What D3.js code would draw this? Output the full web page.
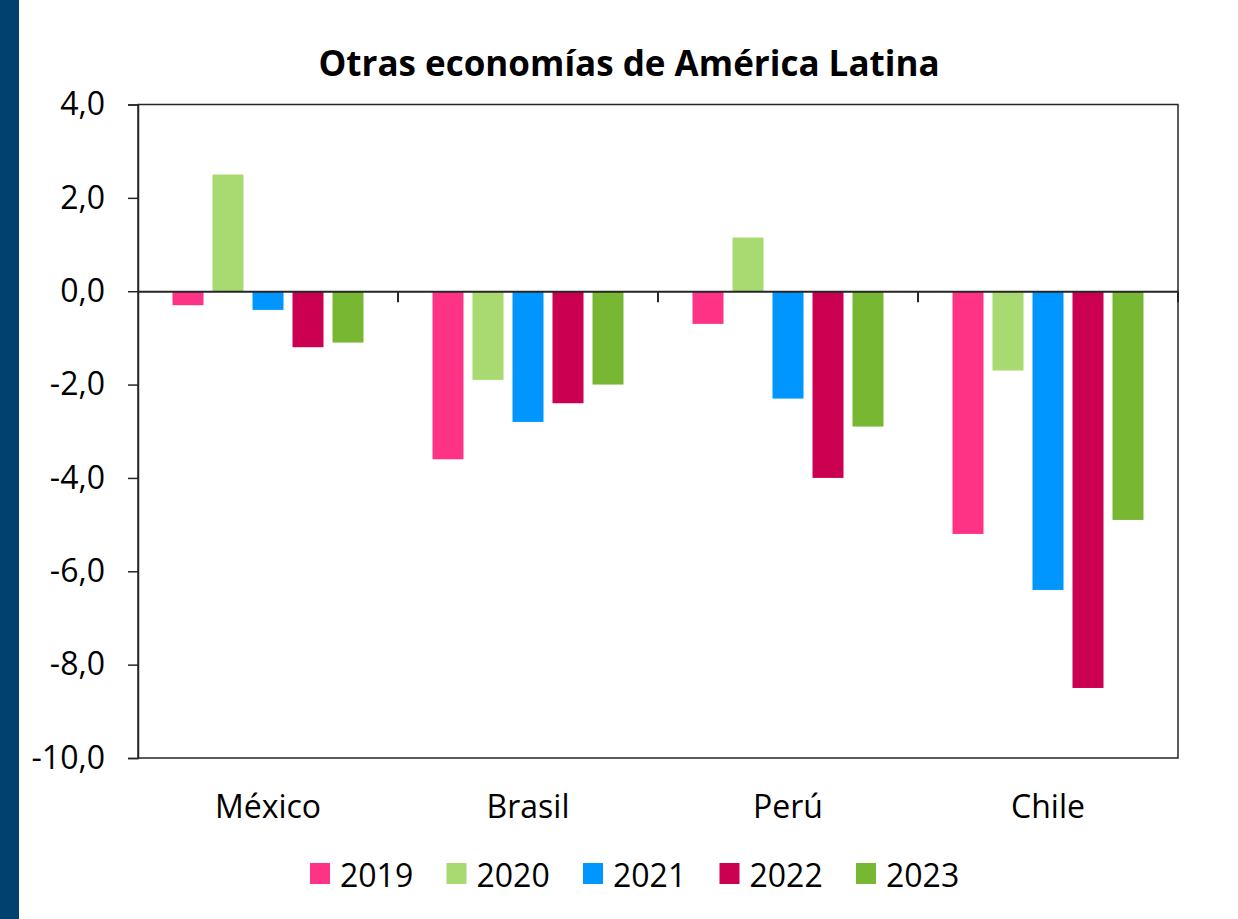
<!DOCTYPE html>
<html><head><meta charset="utf-8">
<script src="https://cdn.jsdelivr.net/npm/d3@7"></script>
<style>
html,body{margin:0;padding:0;background:#fff;}
svg text{font-family:"Open Sans",sans-serif;fill:#000;}
</style></head>
<body>
<svg id="c" width="1238" height="919"></svg>
<script>
const categories = ["México", "Brasil", "Perú", "Chile"];
const years = ["2019", "2020", "2021", "2022", "2023"];
const colors = ["#ff3385", "#a9d971", "#0096ff", "#cc0050", "#77b731"];
const v2019 = [-0.3, -3.6, -0.7, -5.2];
const v2020 = [2.5, -1.9, 1.15, -1.7];
const v2021 = [-0.4, -2.8, -2.3, -6.4];
const v2022 = [-1.2, -2.4, -4.0, -8.5];
const v2023 = [-1.1, -2.0, -2.9, -4.9];
const yTicks = [4, 2, 0, -2, -4, -6, -8, -10];
const title = "Otras economías de América Latina";

const series = [v2019, v2020, v2021, v2022, v2023];
const svg = d3.select("#c");
svg.append("rect").attr("x",0).attr("y",0).attr("width",19).attr("height",919).attr("fill","#00416f");

const L=138, R=1178, T=104.5, B=758;
const x0 = d3.scaleBand().domain(categories).range([L,R]).padding(0);
const GW = 191;
const x1 = d3.scaleBand().domain(years).range([0,GW]).paddingInner(9/40).paddingOuter(0);
const y = d3.scaleLinear().domain([-10,4]).range([B,T]);

svg.append("text").attr("x",629).attr("y",76).attr("text-anchor","middle")
  .style("font-size","35px").style("font-weight","bold").text(title);

// bars
categories.forEach((c,ci)=>{
  const gx = x0(c) + (x0.bandwidth()-GW)/2;
  series.forEach((s,si)=>{
    const v = s[ci];
    svg.append("rect")
      .attr("x", gx + x1(years[si]))
      .attr("width", x1.bandwidth())
      .attr("y", y(Math.max(0,v)))
      .attr("height", Math.abs(y(v)-y(0)))
      .attr("fill", colors[si]);
  });
});

// frame
svg.append("rect").attr("x",L).attr("y",T).attr("width",R-L).attr("height",B-T)
  .attr("fill","none").attr("stroke","#262626").attr("stroke-width",1.5);

// y axis
const ya = svg.append("g").attr("transform",`translate(${L},0)`)
  .call(d3.axisLeft(y).tickValues(yTicks).tickSize(10).tickPadding(23)
    .tickFormat(d=>d3.format(".1f")(d).replace(".",",").replace("−","-")));
ya.select(".domain").attr("stroke","#262626").attr("stroke-width",1.5);
ya.selectAll(".tick line").attr("stroke","#262626").attr("stroke-width",1.5);
ya.selectAll(".tick text").style("font-size","32px").attr("fill","#000");

// zero line with category ticks
const xa = svg.append("g").attr("transform",`translate(0,${y(0)})`)
  .call(d3.axisBottom(x0).tickSize(0).tickFormat(""));
xa.select(".domain").attr("stroke","#262626").attr("stroke-width",2);
const bounds = categories.slice(1).map(c=>x0(c)).concat([R]);
xa.selectAll(".bnd").data(bounds).enter().append("line")
  .attr("x1",d=>d).attr("x2",d=>d).attr("y1",0).attr("y2",11)
  .attr("stroke","#262626").attr("stroke-width",2);

// category labels
svg.selectAll(".cat").data(categories).enter().append("text")
  .attr("x",d=>x0(d)+x0.bandwidth()/2).attr("y",818).attr("text-anchor","middle")
  .style("font-size","32px").text(d=>d);

// legend
const lg = svg.append("g");
years.forEach((yr,i)=>{
  const lx = 310 + i*136.5;
  lg.append("rect").attr("x",lx).attr("y",863).attr("width",20).attr("height",21).attr("fill",colors[i]);
  lg.append("text").attr("x",lx+30).attr("y",887).style("font-size","32px").text(yr);
});
</script>
</body></html>
